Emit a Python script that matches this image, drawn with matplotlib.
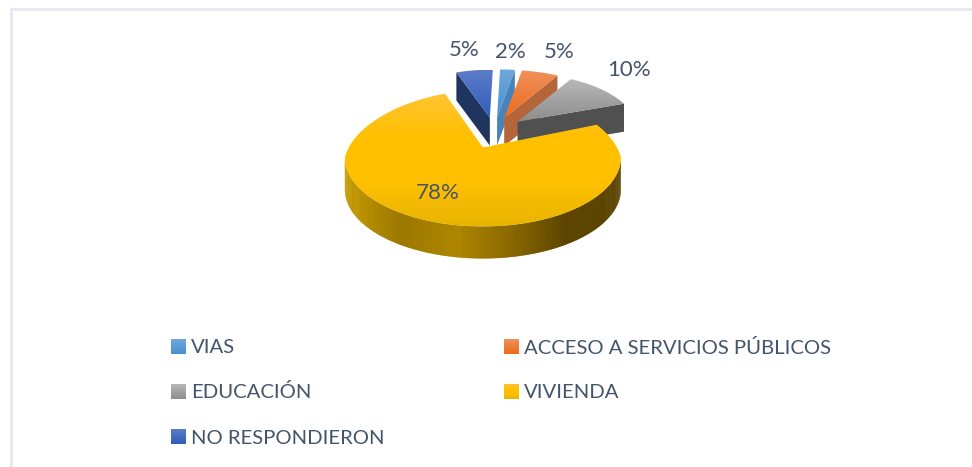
import numpy as np
import matplotlib
matplotlib.use('Agg')
import matplotlib.pyplot as plt
from matplotlib.patches import Polygon
from matplotlib.colors import LinearSegmentedColormap

# chart data
categories = ['VIAS', 'ACCESO A SERVICIOS PÚBLICOS', 'EDUCACIÓN', 'VIVIENDA', 'NO RESPONDIERON']
values = [2, 5, 10, 78, 5]
labels = ['2%', '5%', '10%', '78%', '5%']

# gradient colours of each slice top, then the cut wall colours
top_colors = [['#6FA8DC', '#4A90D0'], ['#F0905A', '#EA6C1C'], ['#B8B8B8', '#8C8C8C'],
              ['#FFC433', '#FFC000', '#FFC000', '#E9B400'], ['#5B7CC8', '#2F5EB8']]
wall_colors = ['#4A83B8', '#B5653A', '#505050', '#8A6A00', '#1F3560']
text_color = '#44546A'

plt.rcParams['font.family'] = ['Lato', 'DejaVu Sans']

fig = plt.figure(figsize=(9.72, 4.67), dpi=100)
ax = fig.add_axes([0, 0, 1, 1])
ax.axis('off')
ax.set_autoscale_on(False)
ax.set_xlim(0, 972)
ax.set_ylim(467, 0)

# pie geometry in pixels
cx, cy = 495, 133
ex, ey = 33, 15.6
depth = 30


def gradient(colors, extent, clip=None, zorder=2):
    cmap = LinearSegmentedColormap.from_list('g', colors)
    g = np.linspace(0, 1, 64).reshape(-1, 1)
    im = ax.imshow(g, cmap=cmap, extent=extent, aspect='auto', zorder=zorder,
                   interpolation='bilinear')
    if clip is not None:
        im.set_clip_path(clip)
    return im


def arc(a, b, dx, dy, apex, t1, t2, kx=0.0, ky=0.0):
    # kx, ky pull the far side in a little, the picture has some perspective
    t = np.radians(np.linspace(t1, t2, 120))
    back = np.maximum(np.cos(t), 0)
    x = apex[0] + dx + a * (1 - kx * back) * np.sin(t)
    y = apex[1] + dy - b * (1 - ky * back) * np.cos(t)
    return np.column_stack([x, y])


shares = np.array(values) / sum(values) * 360
starts = np.concatenate([[0], np.cumsum(shares)[:-1]])

# back slices first, the big one last
z = 3
for i in [0, 1, 2, 4, 3]:
    t1, t2 = starts[i], starts[i] + shares[i]
    mid = np.radians((t1 + t2) / 2)
    apex = (cx + ex * np.sin(mid), cy - ey * np.cos(mid))
    big = values[i] == max(values)
    if big:
        outer = arc(138, 69, 0, 10, apex, t1, t2, kx=0.12, ky=0.03)
    else:
        outer = arc(118, 58, 3, 10, apex, t1, t2)
    top = np.vstack([apex, outer])

    if big:
        # front rim, colour follows x
        rim_t = np.linspace(90, 270, 181)
        rim_cols = LinearSegmentedColormap.from_list(
            'rim', ['#C49A00', '#9C7800', '#AE8600', '#8A6800', '#5C4500', '#5A4400'])
        for k in range(len(rim_t) - 1):
            p = arc(138, 69, 0, 10, apex, rim_t[k], rim_t[k + 1] + 0.6)
            quad = np.vstack([p, p[::-1] + [0, depth + 2]])
            pos = (p[:, 0].mean() - apex[0] + 138) / 276
            ax.add_patch(Polygon(quad, closed=True, fc=rim_cols(pos), ec='none', zorder=z))
        z += 1
    else:
        # cut wall facing the viewer
        edge = outer[0] if i == 4 else outer[-1]
        wall = [apex, edge, edge + [0, depth - 2], np.array(apex) + [0, depth - 2]]
        ax.add_patch(Polygon(wall, closed=True, fc=wall_colors[i], ec='none', zorder=z))
        z += 1

    clip = Polygon(top, closed=True, transform=ax.transData)
    ext = (top[:, 0].min(), top[:, 0].max(), top[:, 1].max(), top[:, 1].min())
    gradient(top_colors[i], ext, clip=clip, zorder=z)
    z += 1

# data labels
label_pos = [(510, 52), (559, 52), (629, 70), (438, 193), (464, 50)]
for s, (x, y) in zip(labels, label_pos):
    ax.text(x, y, s, color=text_color, fontsize=16, ha='center', va='center', zorder=30)

# legend, filled by rows
legend_x = [171, 504]
legend_y = [346.5, 391.5, 437]
for i, name in enumerate(categories):
    x = legend_x[i % 2]
    y = legend_y[i // 2]
    gradient(top_colors[i], (x, x + 15, y + 7.5, y - 7.5), zorder=5)
    ax.text(x + 20, y + 1, name, color=text_color, fontsize=14.6, ha='left', va='center', zorder=30)

# chart frame, only top and left show
ax.plot([11, 11, 972], [467, 9, 9], color='#E3E8F0', lw=2, zorder=1, solid_joinstyle='miter')

ax.set_xlim(0, 972)
ax.set_ylim(467, 0)

fig.savefig('out.png', dpi=100)
